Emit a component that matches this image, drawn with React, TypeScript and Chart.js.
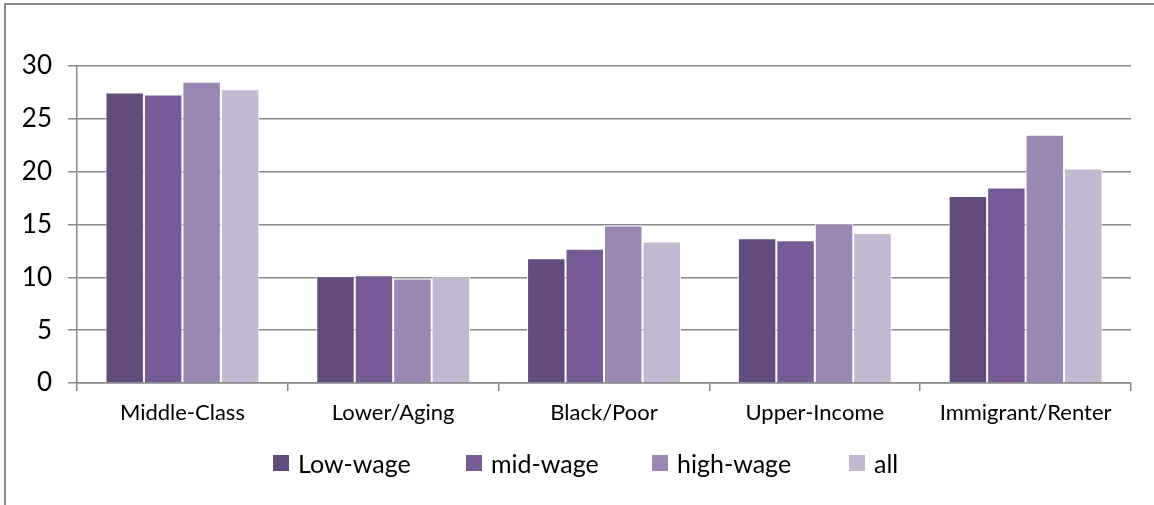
import React, { useEffect, useRef } from "react";
import { Chart, registerables } from "chart.js";

Chart.register(...registerables);

const categories = ["Middle-Class", "Lower/Aging", "Black/Poor", "Upper-Income", "Immigrant/Renter"];
const seriesNames = ["Low-wage", "mid-wage", "high-wage", "all"];
const lowWage = [27.5, 10.1, 11.8, 13.7, 17.7];
const midWage = [27.3, 10.2, 12.7, 13.5, 18.5];
const highWage = [28.5, 9.9, 14.9, 15.1, 23.5];
const allWorkers = [27.8, 10.1, 13.4, 14.2, 20.3];
const seriesColors = ["#624c7d", "#765b96", "#9a88b3", "#c2b8d0"];
const yTicks = [0, 5, 10, 15, 20, 25, 30];

const FONT = "Lato, 'Liberation Sans', sans-serif";
const legendLefts = [273, 466, 652, 849];

export default function App() {
  const ref = useRef<HTMLCanvasElement | null>(null);
  useEffect(() => {
    if (!ref.current) return;
    const values = [lowWage, midWage, highWage, allWorkers];
    const chart = new Chart(ref.current, {
      type: "bar",
      data: {
        labels: categories,
        datasets: seriesNames.map((name, i) => ({
          label: name,
          data: values[i],
          backgroundColor: seriesColors[i],
          borderColor: "#ffffff",
          borderWidth: 1,
          categoryPercentage: 0.73,
          barPercentage: 1,
        })),
      },
      options: {
        animation: false,
        responsive: false,
        maintainAspectRatio: false,
        layout: { padding: { top: 66, right: 23, bottom: 0, left: 0 } },
        plugins: { legend: { display: false }, tooltip: { enabled: false } },
        scales: {
          x: {
            grid: {
              display: true,
              drawOnChartArea: false,
              offset: true,
              tickLength: 8,
              color: "#888888",
              lineWidth: 1.5,
            },
            border: { display: true, color: "#888888", width: 1.5 },
            ticks: {
              color: "#000",
              font: { family: FONT, size: 22 },
              padding: 9,
              maxRotation: 0,
            },
            afterFit: (scale: any) => {
              scale.height = 122;
            },
          },
          y: {
            min: 0,
            max: 30,
            afterBuildTicks: (scale: any) => {
              scale.ticks = yTicks.map((v) => ({ value: v }));
            },
            grid: {
              color: "#888888",
              lineWidth: 1.5,
              tickLength: 9,
            },
            border: { display: true, color: "#888888", width: 1.5 },
            ticks: {
              color: "#000",
              font: { family: FONT, size: 26 },
              padding: 16,
            },
            afterFit: (scale: any) => {
              scale.width = 77;
            },
          },
        },
      },
    });
    return () => chart.destroy();
  }, []);

  return (
    <div
      style={{
        position: "fixed",
        left: 0,
        top: 0,
        width: 1154,
        height: 505,
        overflow: "hidden",
        background: "#fff",
      }}
    >
      <div
        style={{
          position: "absolute",
          left: 4,
          top: 3,
          width: 1300,
          height: 700,
          borderTop: "2px solid #8a8a8a",
          borderLeft: "2px solid #8a8a8a",
          boxSizing: "border-box",
        }}
      />
      <canvas ref={ref} width={1154} height={505} style={{ position: "absolute", left: 0, top: 0 }} />
      {seriesNames.map((name, i) => (
        <div
          key={name}
          style={{
            position: "absolute",
            left: legendLefts[i],
            top: 446,
            height: 34,
            display: "flex",
            alignItems: "center",
            fontFamily: FONT,
            fontSize: 25,
            color: "#000",
            whiteSpace: "nowrap",
          }}
        >
          <span
            style={{
              display: "inline-block",
              width: 16,
              height: 16,
              background: seriesColors[i],
              marginRight: 9,
            }}
          />
          <span>{name}</span>
        </div>
      ))}
    </div>
  );
}
